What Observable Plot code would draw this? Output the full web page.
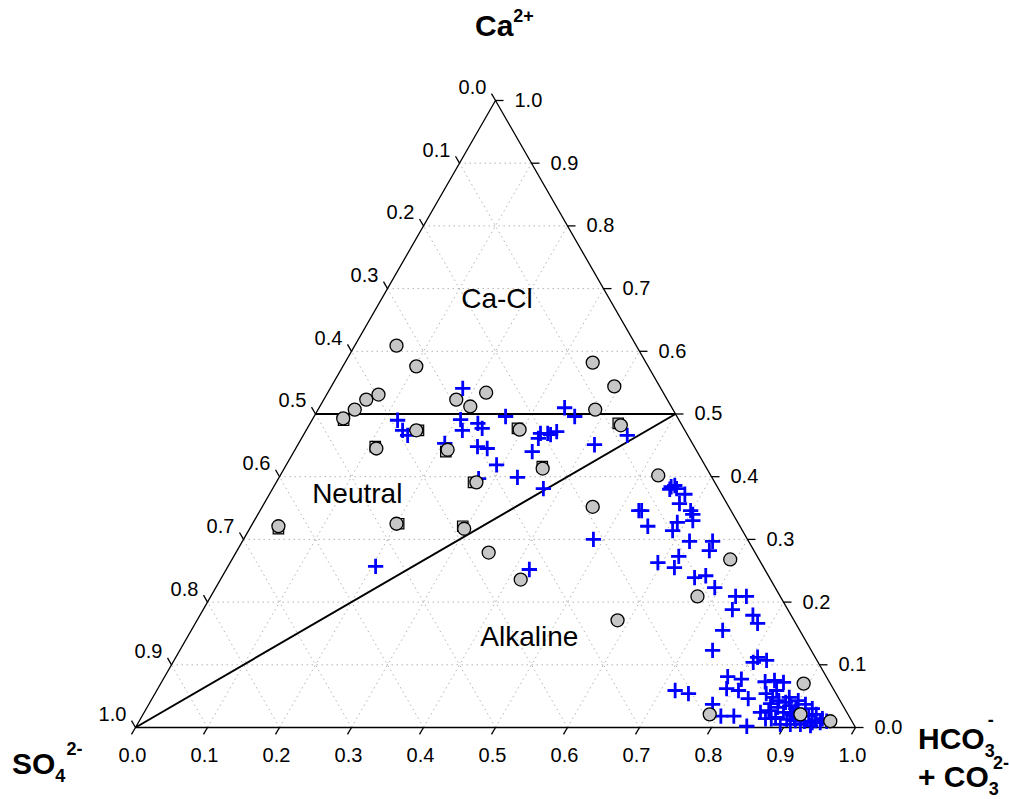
<!DOCTYPE html>
<html><head><meta charset="utf-8">
<script src="https://cdn.jsdelivr.net/npm/d3@7"></script>
<script src="https://cdn.jsdelivr.net/npm/@observablehq/plot@0.6"></script>
<style>body{margin:0;background:#fff} #chart svg{display:block}</style>
</head><body><div id="chart"></div><script>
// ---- data (ternary fractions: Ca2+, HCO3- + CO3 2-; SO4 2- = 1 - both) ----
const tickValues = [0,0.1,0.2,0.3,0.4,0.5,0.6,0.7,0.8,0.9,1];
const tickLabels = ["0.0","0.1","0.2","0.3","0.4","0.5","0.6","0.7","0.8","0.9","1.0"];

const circleCa   = [0.609,0.576,0.531,0.523,0.507,0.493,0.445,0.474,0.523,0.512,0.534,0.443,0.475,0.582,0.544,0.507,0.482,0.413,0.391,0.402,0.352,0.325,0.321,0.317,0.279,0.236,0.209,0.268,0.171,0.070,0.021,0.021,0.010];
const circleHCO3 = [0.058,0.102,0.072,0.059,0.051,0.042,0.112,0.153,0.184,0.209,0.220,0.212,0.296,0.344,0.393,0.385,0.433,0.359,0.278,0.525,0.459,0.200,0.038,0.298,0.351,0.417,0.676,0.692,0.584,0.893,0.787,0.913,0.960];

const squareCa   = [0.490,0.448,0.474,0.440,0.477,0.485,0.416,0.391,0.321,0.317,0.325];
const squareHCO3 = [0.044,0.109,0.156,0.211,0.292,0.428,0.357,0.274,0.294,0.040,0.203];

const crossCa = [0.541,0.490,0.474,0.466,0.491,0.474,0.485,0.477,0.448,0.445,0.419,0.453,0.496,0.510,0.496,0.469,0.469,0.472,0.467,0.461,0.440,0.451,0.466,0.399,0.381,0.397,0.257,0.252,0.300,0.346,
 0.384,0.386,0.381,0.380,0.372,0.357,0.346,0.346,0.340,0.330,0.327,0.321,0.314,0.297,0.297,0.282,0.273,0.263,0.255,0.239,0.242,0.223,0.209,0.209,0.188,0.179,0.166,0.155,0.123,0.112,0.104,0.107,0.081,0.077,0.073,0.075,0.072,0.062,0.059,0.046,0.059,0.054,0.037,0.018,0.018,0.002,
 0.054,0.048,0.043,0.038,0.040,0.035,0.032,0.030,0.037,0.030,0.027,0.024,0.021,0.018,0.021,0.014,0.016,0.013,0.011,0.010,0.008,0.008,0.010,0.005,0.005,0.005,0.003,0.014,0.024,0.048,0.043,0.014,0.011,0.059,0.018];
const crossHCO3 = [0.184,0.119,0.134,0.145,0.206,0.217,0.233,0.243,0.251,0.266,0.292,0.203,0.266,0.341,0.362,0.328,0.338,0.349,0.343,0.329,0.331,0.412,0.450,0.331,0.376,0.278,0.205,0.421,0.486,0.526,
 0.552,0.556,0.561,0.552,0.577,0.577,0.530,0.598,0.604,0.609,0.589,0.551,0.589,0.621,0.653,0.656,0.618,0.594,0.621,0.657,0.671,0.693,0.729,0.744,0.735,0.768,0.781,0.738,0.740,0.808,0.806,0.823,0.782,0.803,0.838,0.850,0.864,0.790,0.808,0.828,0.720,0.741,0.783,0.804,0.822,0.848,
 0.849,0.861,0.872,0.863,0.883,0.892,0.876,0.902,0.912,0.925,0.866,0.888,0.902,0.926,0.935,0.947,0.881,0.898,0.911,0.924,0.936,0.947,0.955,0.893,0.907,0.921,0.936,0.876,0.856,0.884,0.899,0.868,0.939,0.861,0.906];

const regionNames = ["Ca-Cl","Neutral","Alkaline"];
const regionCa    = [0.684,0.372,0.144];
const regionHCO3  = [0.160,0.122,0.475];

// boundaries (ternary endpoints)
const boundaryCa1 = [0.5, 0.0], boundaryHCO31 = [0.0, 0.0];
const boundaryCa2 = [0.5, 0.5], boundaryHCO32 = [0.5, 0.5];

// ---- layout ----
const W = 1009, Hh = 799, mL = 135, mR = 154, mT = 100, mB = 72;
const pxX = W - mL - mR, pxY = Hh - mT - mB;
const FONT = "'Liberation Sans', Arial, Helvetica, sans-serif";
const cart = (ca, h) => ({x: h + ca / 2, y: ca});

const circles = circleCa.map((c, i) => cart(c, circleHCO3[i]));
const squares = squareCa.map((c, i) => cart(c, squareHCO3[i]));
const crosses = crossCa.map((c, i) => cart(c, crossHCO3[i]));
const regions = regionNames.map((n, i) => ({...cart(regionCa[i], regionHCO3[i]), name: n}));
const boundaries = boundaryCa1.map((c, i) => {
  const a = cart(c, boundaryHCO31[i]), b = cart(boundaryCa2[i], boundaryHCO32[i]);
  return {x1: a.x, y1: a.y, x2: b.x, y2: b.y};
});
const triangle = [cart(0,0), cart(0,1), cart(1,0), cart(0,0)];

const inner = tickValues.filter(t => t > 0 && t < 1);
const grid = inner.flatMap(t => [
  {x1: t/2, y1: t, x2: 1 - t/2, y2: t},
  {x1: t, y1: 0, x2: (1 + t)/2, y2: 1 - t},
  {x1: 1 - t, y1: 0, x2: (1 - t)/2, y2: 1 - t}
]);

const L = 8, ux = 1/pxX, uy = 1/pxY, s60 = Math.sqrt(3)/2;
const ticks = tickValues.flatMap(t => [
  {x1: t, y1: 0, x2: t - L*0.5*ux, y2: -L*s60*uy},
  {x1: 1 - t/2, y1: t, x2: 1 - t/2 + L*ux, y2: t},
  {x1: (1 - t)/2, y1: 1 - t, x2: (1 - t)/2 - L*0.5*ux, y2: 1 - t + L*s60*uy}
]);

const chart = Plot.plot({
  width: W, height: Hh,
  marginLeft: mL, marginRight: mR, marginTop: mT, marginBottom: mB,
  x: {domain: [0, 1], axis: null},
  y: {domain: [0, 1], axis: null},
  style: {fontFamily: FONT, fontSize: "20px", background: "#fff", overflow: "visible"},
  marks: [
    Plot.link(grid, {x1: "x1", y1: "y1", x2: "x2", y2: "y2", stroke: "#b4b4b4", strokeWidth: 1, strokeDasharray: "1.5,3.5"}),
    Plot.line(triangle, {x: "x", y: "y", stroke: "#000", strokeWidth: 1.3}),
    Plot.link(boundaries, {x1: "x1", y1: "y1", x2: "x2", y2: "y2", stroke: "#000", strokeWidth: 2}),
    Plot.link(ticks, {x1: "x1", y1: "y1", x2: "x2", y2: "y2", stroke: "#000", strokeWidth: 1.3}),
    Plot.text(tickValues, {x: t => t, y: 0, text: (t, i) => tickLabels[i], dx: -3, dy: 28, fontSize: 20, fill: "#000"}),
    Plot.text(tickValues, {x: t => 1 - t/2, y: t => t, text: (t, i) => tickLabels[i], textAnchor: "start", dx: 19, fontSize: 20, fill: "#000"}),
    Plot.text(tickValues, {x: t => (1 - t)/2, y: t => 1 - t, text: (t, i) => tickLabels[i], dx: -23, dy: -13, fontSize: 20, fill: "#000"}),
    Plot.text(regions, {x: "x", y: "y", text: "name", fontSize: 28, fill: "#000"}),
    Plot.dot(crosses, {x: "x", y: "y", symbol: "plus", r: 5, stroke: "#0000ff", strokeWidth: 2.8}),
    Plot.dot(squares, {x: "x", y: "y", symbol: "square", r: 5.9, fill: "#c6c6c6", stroke: "#000", strokeWidth: 1.2}),
    Plot.dot(circles, {x: "x", y: "y", r: 6.5, fill: "#c6c6c6", stroke: "#000", strokeWidth: 1.3})
  ]
});
document.getElementById("chart").appendChild(chart);

// ---- vertex titles with sub/superscripts ----
const svg = d3.select(chart);
const xs = chart.scale("x"), ys = chart.scale("y");
function addTitle(x, y, parts) {
  const t = svg.append("text").attr("x", x).attr("y", y).attr("text-anchor", "start")
    .attr("font-family", FONT).attr("font-weight", "bold").attr("font-size", 30).attr("fill", "#000");
  parts.forEach(p => t.append("tspan").attr("dx", p.dx || 0).attr("dy", p.dy || 0)
    .attr("font-size", p.size || 30).text(p.text));
}
addTitle(xs.apply(0.5) - 20, ys.apply(1) - 64, [{text: "Ca"}, {text: "2+", size: 18, dy: -14}]);
addTitle(xs.apply(0) - 123, ys.apply(0) + 47, [{text: "SO"}, {text: "4", size: 18, dy: 8}, {text: "2-", size: 18, dx: 1, dy: -27}]);
addTitle(xs.apply(1) + 63, ys.apply(0) + 22, [{text: "HCO"}, {text: "3", size: 18, dy: 8}, {text: "-", size: 18, dx: -7, dy: -31}]);
addTitle(xs.apply(1) + 63, ys.apply(0) + 60, [{text: "+ CO"}, {text: "3", size: 18, dy: 8}, {text: "2-", size: 18, dx: -6, dy: -26}]);
</script></body></html>
